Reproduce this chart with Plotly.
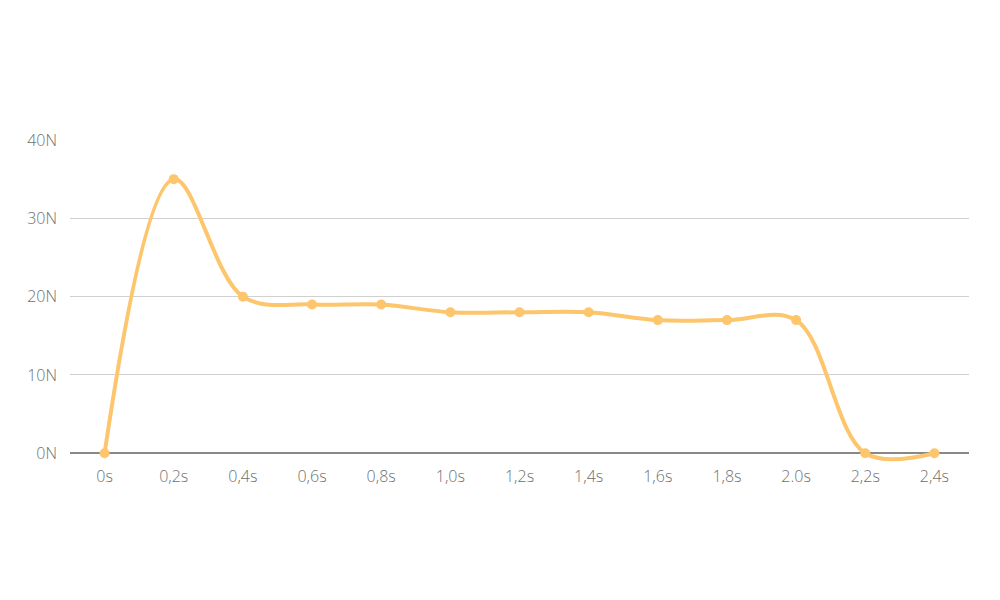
import plotly.graph_objects as go

categories = ["0s", "0,2s", "0,4s", "0,6s", "0,8s", "1,0s", "1,2s", "1,4s", "1,6s", "1,8s", "2.0s", "2,2s", "2,4s"]
force = [0, 35, 20, 19, 19, 18, 18, 18, 17, 17, 17, 0, 0]
y_ticks = [0, 10, 20, 30, 40]
y_tick_labels = ["0N", "10N", "20N", "30N", "40N"]

color = "#FDC56C"

fig = go.Figure()
fig.add_trace(go.Scatter(
    x=categories, y=force, mode="lines+markers",
    line=dict(color=color, width=4, shape="spline", smoothing=1.0),
    marker=dict(color=color, size=10),
    cliponaxis=False,
    showlegend=False,
))

tick_font = dict(family="Open Sans", size=16, color="#707070", weight=300)

fig.update_layout(
    width=1000, height=600,
    margin=dict(l=62, r=39, t=132, b=143),
    plot_bgcolor="white", paper_bgcolor="white",
    font=dict(family="Open Sans", size=16, color="#707070"),
    xaxis=dict(type="category", range=[-0.5, 12.5], showgrid=False, ticks="",
               showline=False, zeroline=False, tickfont=tick_font),
    yaxis=dict(range=[-1.5, 40], tickvals=y_ticks, ticktext=y_tick_labels,
               gridcolor="#d0d0d0", gridwidth=1, zeroline=True, zerolinecolor="#888888",
               zerolinewidth=1.5, showline=False, ticks="", ticklabelstandoff=12,
               tickfont=tick_font, layer="below traces"),
)
fig.write_html("out.html")
